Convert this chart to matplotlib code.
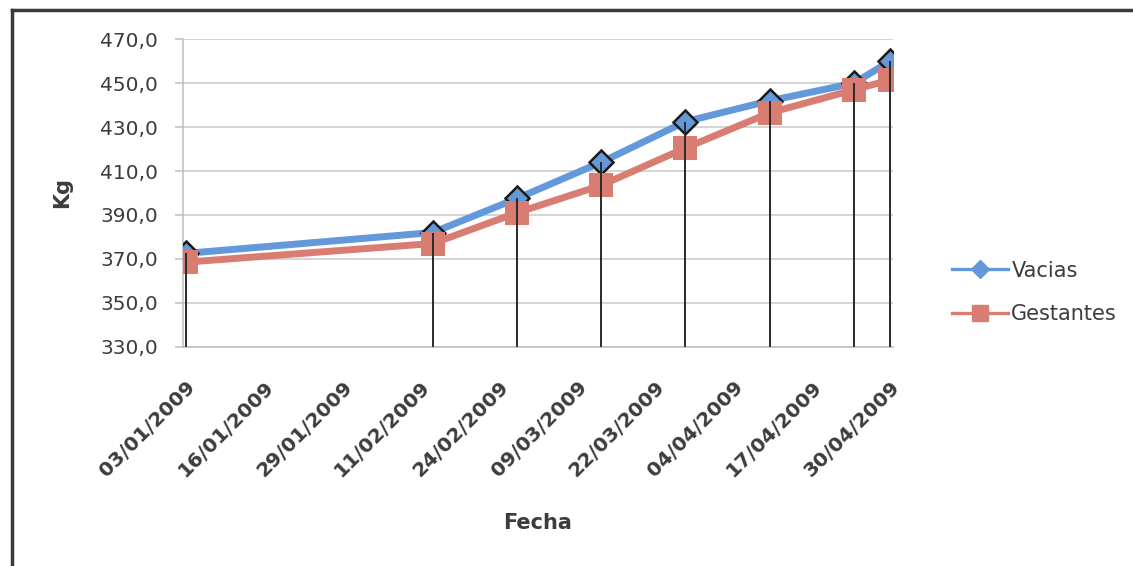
import matplotlib
matplotlib.use("Agg")
import matplotlib.pyplot as plt
import matplotlib.dates as mdates
from matplotlib.lines import Line2D
from datetime import datetime, timedelta

# Weighing dates and mean live weight (kg) per group
fechas = ["03/01/2009", "13/02/2009", "27/02/2009", "13/03/2009",
          "27/03/2009", "10/04/2009", "24/04/2009", "30/04/2009"]
vacias = [372.5, 382.0, 397.5, 414.0, 432.5, 442.0, 450.0, 460.0]
gestantes = [368.5, 377.0, 391.0, 403.5, 420.5, 436.5, 447.0, 451.5]

y_ticks = [330, 350, 370, 390, 410, 430, 450, 470]
tick_start = "03/01/2009"
tick_step_days = 13
n_ticks = 10

plt.rcParams['font.family'] = ['DejaVu Sans']
TXT = "#3c3c3c"
BLUE = "#6399DA"
RED = "#D97C72"

dates = [datetime.strptime(f, "%d/%m/%Y") for f in fechas]
x = mdates.date2num(dates)
t0 = datetime.strptime(tick_start, "%d/%m/%Y")
tick_dates = [t0 + timedelta(days=tick_step_days * k) for k in range(n_ticks)]
tx = mdates.date2num(tick_dates)

fig = plt.figure(figsize=(11.33, 5.66), dpi=100)
fig.patch.set_facecolor("white")
ax = fig.add_axes([183 / 1133, 1 - 346.7 / 566, 710 / 1133, 307.4 / 566])

# Series
ax.plot(x, vacias, color=BLUE, lw=5, solid_joinstyle="round", zorder=3)
ax.plot(x, vacias, ls="none", marker="D", ms=12, mfc=BLUE, mec="#1a1a1a",
        mew=1.8, zorder=3.1)
ax.plot(x, gestantes, color=RED, lw=5, solid_joinstyle="round", zorder=3.2)
ax.plot(x, gestantes, ls="none", marker="s", ms=17, mfc=RED, mec=RED,
        mew=0, zorder=3.3)

# Drop lines from the highest point down to the axis
tops = [max(a, b) for a, b in zip(vacias, gestantes)]
ax.vlines(x, y_ticks[0], tops, colors="#2a2a2a", lw=1.4, zorder=5)

ax.set_xlim(x[0] - 0.5, x[-1] + 0.5)
ax.set_ylim(y_ticks[0], y_ticks[-1])
ax.set_yticks(y_ticks)
ax.set_yticklabels([f"{v:.1f}".replace(".", ",") for v in y_ticks])
ax.set_xticks(tx)
ax.set_xticklabels([d.strftime("%d/%m/%Y") for d in tick_dates])

ax.grid(axis="y", color="#c9c9c9", lw=1.1)
ax.set_axisbelow(True)
for s in ("top", "right"):
    ax.spines[s].set_visible(False)
for s in ("left", "bottom"):
    ax.spines[s].set_color("#bdbdbd")
    ax.spines[s].set_linewidth(1.1)

ax.tick_params(axis="y", length=6, color="#bdbdbd", width=1.1, pad=12,
               labelsize=14.5, labelcolor=TXT)
ax.tick_params(axis="x", length=0, pad=22, labelsize=14.5, labelcolor=TXT)
for lab in ax.get_xticklabels():
    lab.set_rotation(45)
    lab.set_ha("right")
    lab.set_va("top")
    lab.set_rotation_mode("anchor")
    lab.set_fontweight("bold")

fig.text(62 / 1133, 1 - 193 / 566, "Kg", rotation=90, ha="center", va="center",
         fontsize=15, fontweight="bold", color=TXT)
fig.text(538 / 1133, 1 - 523 / 566, "Fecha", ha="center", va="center",
         fontsize=15, fontweight="bold", color=TXT)

handles = [
    Line2D([], [], color=BLUE, lw=2.4, marker="D", ms=9.5, mfc=BLUE, mec=BLUE),
    Line2D([], [], color=RED, lw=2.4, marker="s", ms=11, mfc=RED, mec=RED),
]
fig.legend(handles, ["Vacias", "Gestantes"], loc="center left",
           bbox_to_anchor=(952 / 1133, 1 - 292.5 / 566), frameon=False,
           fontsize=15, handlelength=2.7, handletextpad=0.15,
           labelspacing=1.15, borderpad=0, borderaxespad=0,
           labelcolor=TXT)

# Outer chart frame (left and top edges)
fig.add_artist(Line2D([12 / 1133, 12 / 1133], [0, 1 - 10 / 566],
                      transform=fig.transFigure, color="#3a3a3a", lw=2.5))
fig.add_artist(Line2D([12 / 1133, 1], [1 - 10 / 566, 1 - 10 / 566],
                      transform=fig.transFigure, color="#3a3a3a", lw=2.5))

fig.savefig("out.png", dpi=100, facecolor="white")
